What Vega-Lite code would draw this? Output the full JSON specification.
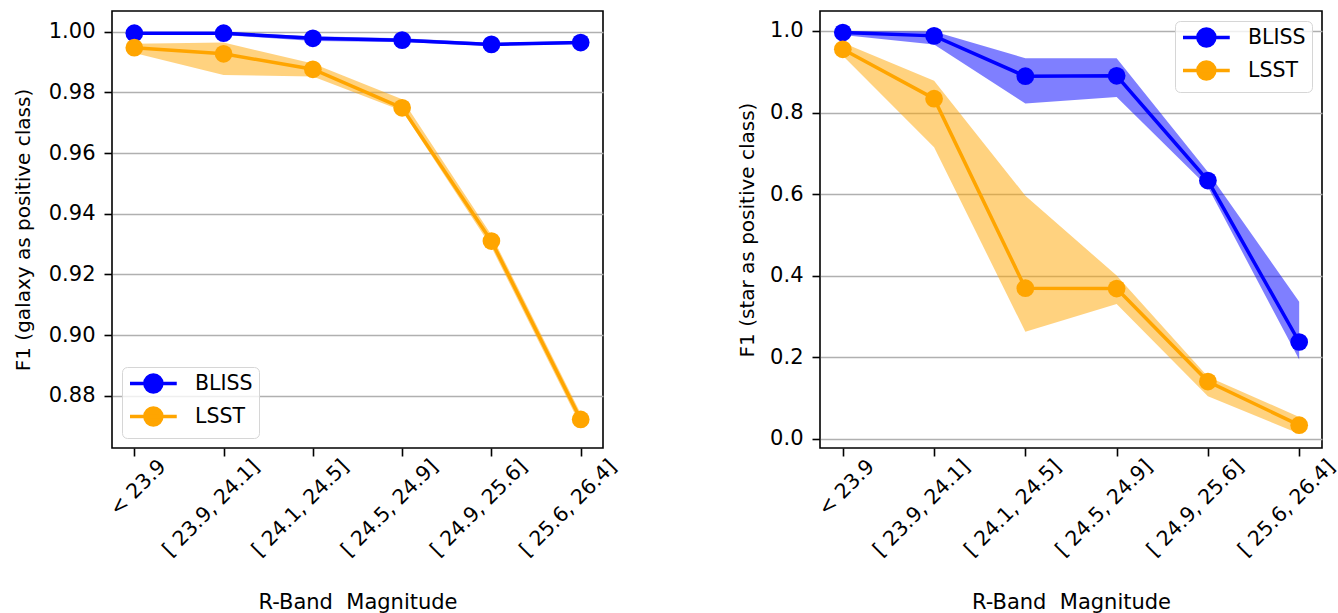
{
  "$schema": "https://vega.github.io/schema/vega-lite/v6.json",
  "background": "white",
  "padding": {"left": 12, "top": 10, "right": 4, "bottom": 2},
  "bounds": "flush",
  "spacing": 217,
  "config": {
    "font": "DejaVu Sans",
    "view": {"stroke": "black", "strokeWidth": 1.6},
    "axis": {
      "labelFont": "DejaVu Sans", "titleFont": "DejaVu Sans",
      "labelFontSize": 21, "titleFontSize": 20, "titleFontWeight": "normal",
      "labelColor": "black", "titleColor": "black",
      "tickColor": "black", "tickSize": 8, "tickWidth": 1.6,
      "domain": false, "gridColor": "#b0b0b0", "gridWidth": 1.5
    },
    "legend": {
      "labelFont": "DejaVu Sans", "labelFontSize": 20.5, "labelColor": "black",
      "symbolType": "M-1,0H4.5M0.75,0A1,1 0 1 1 2.75,0A1,1 0 1 1 0.75,0Z",
      "symbolSize": 289, "symbolStrokeWidth": 3.5, "symbolOpacity": 1,
      "labelOffset": 46, "padding": 6, "rowPadding": 2,
      "cornerRadius": 5, "strokeColor": "#d6d6d6", "fillColor": "rgba(255,255,255,0.8)",
      "offset": 10
    }
  },
  "datasets": {
    "galaxy": [
      {"bin": "< 23.9", "method": "BLISS", "f1": 0.9995, "lo": 0.9990, "hi": 0.9999},
      {"bin": "[ 23.9, 24.1]", "method": "BLISS", "f1": 0.9995, "lo": 0.9989, "hi": 0.9999},
      {"bin": "[ 24.1, 24.5]", "method": "BLISS", "f1": 0.9978, "lo": 0.9969, "hi": 0.9985},
      {"bin": "[ 24.5, 24.9]", "method": "BLISS", "f1": 0.9972, "lo": 0.9966, "hi": 0.9978},
      {"bin": "[ 24.9, 25.6]", "method": "BLISS", "f1": 0.9958, "lo": 0.9953, "hi": 0.9963},
      {"bin": "[ 25.6, 26.4]", "method": "BLISS", "f1": 0.9964, "lo": 0.9959, "hi": 0.9969},
      {"bin": "< 23.9", "method": "LSST", "f1": 0.9947, "lo": 0.9930, "hi": 0.9960},
      {"bin": "[ 23.9, 24.1]", "method": "LSST", "f1": 0.9927, "lo": 0.9857, "hi": 0.9964},
      {"bin": "[ 24.1, 24.5]", "method": "LSST", "f1": 0.9876, "lo": 0.9852, "hi": 0.9895},
      {"bin": "[ 24.5, 24.9]", "method": "LSST", "f1": 0.9749, "lo": 0.9739, "hi": 0.9777},
      {"bin": "[ 24.9, 25.6]", "method": "LSST", "f1": 0.9310, "lo": 0.9290, "hi": 0.9330},
      {"bin": "[ 25.6, 26.4]", "method": "LSST", "f1": 0.8722, "lo": 0.8702, "hi": 0.8742}
    ],
    "star": [
      {"bin": "< 23.9", "method": "BLISS", "f1": 0.996, "lo": 0.990, "hi": 1.000},
      {"bin": "[ 23.9, 24.1]", "method": "BLISS", "f1": 0.988, "lo": 0.967, "hi": 0.999},
      {"bin": "[ 24.1, 24.5]", "method": "BLISS", "f1": 0.889, "lo": 0.822, "hi": 0.933},
      {"bin": "[ 24.5, 24.9]", "method": "BLISS", "f1": 0.890, "lo": 0.838, "hi": 0.933},
      {"bin": "[ 24.9, 25.6]", "method": "BLISS", "f1": 0.633, "lo": 0.617, "hi": 0.654},
      {"bin": "[ 25.6, 26.4]", "method": "BLISS", "f1": 0.237, "lo": 0.194, "hi": 0.336},
      {"bin": "< 23.9", "method": "LSST", "f1": 0.955, "lo": 0.939, "hi": 0.971},
      {"bin": "[ 23.9, 24.1]", "method": "LSST", "f1": 0.834, "lo": 0.715, "hi": 0.878},
      {"bin": "[ 24.1, 24.5]", "method": "LSST", "f1": 0.369, "lo": 0.262, "hi": 0.596},
      {"bin": "[ 24.5, 24.9]", "method": "LSST", "f1": 0.368, "lo": 0.330, "hi": 0.400},
      {"bin": "[ 24.9, 25.6]", "method": "LSST", "f1": 0.140, "lo": 0.104, "hi": 0.152},
      {"bin": "[ 25.6, 26.4]", "method": "LSST", "f1": 0.033, "lo": 0.012, "hi": 0.053}
    ]
  },
  "hconcat": [
    {
      "width": 491, "height": 437,
      "data": {"name": "galaxy"},
      "encoding": {
        "x": {
          "field": "bin", "type": "ordinal",
          "sort": ["< 23.9", "[ 23.9, 24.1]", "[ 24.1, 24.5]", "[ 24.5, 24.9]", "[ 24.9, 25.6]", "[ 25.6, 26.4]"],
          "scale": {"type": "point", "padding": 0.25},
          "axis": {
            "title": "R-Band\u00a0\u00a0Magnitude", "grid": false, "titleFontSize": 21,
            "labelAngle": -45, "labelAlign": "right", "labelBaseline": "middle", "labelFontSize": 20.5,
            "labelPadding": 7, "titlePadding": 31,
            "labelOffset": {"condition": {"test": "length(datum.label) < 8", "value": 28}, "value": 32}
          }
        },
        "y": {"type": "quantitative", "title": "F1 (galaxy as positive class)",
          "scale": {"domain": [0.8628, 1.0068], "nice": false, "zero": false},
          "axis": {"values": [0.88, 0.90, 0.92, 0.94, 0.96, 0.98, 1.00], "format": ".2f", "labelPadding": 9, "titlePadding": 15}}
      },
      "layer": [
        {
          "transform": [{"filter": "datum.method === 'BLISS'"}],
          "mark": {"type": "area", "opacity": 0.5, "color": "#0000ff"},
          "encoding": {"y": {"field": "lo", "type": "quantitative", "stack": null}, "y2": {"field": "hi"}}
        },
        {
          "transform": [{"filter": "datum.method === 'LSST'"}],
          "mark": {"type": "area", "opacity": 0.5, "color": "#ffa500"},
          "encoding": {"y": {"field": "lo", "type": "quantitative", "stack": null}, "y2": {"field": "hi"}}
        },
        {
          "mark": {"type": "line", "strokeWidth": 3.5},
          "encoding": {
            "y": {"field": "f1", "type": "quantitative"},
            "color": {"field": "method", "type": "nominal",
              "scale": {"domain": ["BLISS", "LSST"], "range": ["#0000ff", "#ffa500"]},
              "legend": {"orient": "bottom-left", "title": null}}
          }
        },
        {
          "mark": {"type": "point", "filled": true, "size": 314, "opacity": 1},
          "encoding": {
            "y": {"field": "f1", "type": "quantitative"},
            "color": {"field": "method", "type": "nominal",
              "scale": {"domain": ["BLISS", "LSST"], "range": ["#0000ff", "#ffa500"]},
              "legend": {"orient": "bottom-left", "title": null}}
          }
        }
      ]
    },
    {
      "width": 502, "height": 437,
      "data": {"name": "star"},
      "encoding": {
        "x": {
          "field": "bin", "type": "ordinal",
          "sort": ["< 23.9", "[ 23.9, 24.1]", "[ 24.1, 24.5]", "[ 24.5, 24.9]", "[ 24.9, 25.6]", "[ 25.6, 26.4]"],
          "scale": {"type": "point", "padding": 0.25},
          "axis": {
            "title": "R-Band\u00a0\u00a0Magnitude", "grid": false, "titleFontSize": 21,
            "labelAngle": -45, "labelAlign": "right", "labelBaseline": "middle", "labelFontSize": 20.5,
            "labelPadding": 7, "titlePadding": 31,
            "labelOffset": {"condition": {"test": "length(datum.label) < 8", "value": 28}, "value": 32}
          }
        },
        "y": {"type": "quantitative", "title": "F1 (star as positive class)",
          "scale": {"domain": [-0.023, 1.049], "nice": false, "zero": false},
          "axis": {"values": [0, 0.2, 0.4, 0.6, 0.8, 1.0], "format": ".1f", "labelPadding": 9, "titlePadding": 12}}
      },
      "layer": [
        {
          "transform": [{"filter": "datum.method === 'BLISS'"}],
          "mark": {"type": "area", "opacity": 0.5, "color": "#0000ff"},
          "encoding": {"y": {"field": "lo", "type": "quantitative", "stack": null}, "y2": {"field": "hi"}}
        },
        {
          "transform": [{"filter": "datum.method === 'LSST'"}],
          "mark": {"type": "area", "opacity": 0.5, "color": "#ffa500"},
          "encoding": {"y": {"field": "lo", "type": "quantitative", "stack": null}, "y2": {"field": "hi"}}
        },
        {
          "mark": {"type": "line", "strokeWidth": 3.5},
          "encoding": {
            "y": {"field": "f1", "type": "quantitative"},
            "color": {"field": "method", "type": "nominal",
              "scale": {"domain": ["BLISS", "LSST"], "range": ["#0000ff", "#ffa500"]},
              "legend": {"orient": "top-right", "title": null}}
          }
        },
        {
          "mark": {"type": "point", "filled": true, "size": 314, "opacity": 1},
          "encoding": {
            "y": {"field": "f1", "type": "quantitative"},
            "color": {"field": "method", "type": "nominal",
              "scale": {"domain": ["BLISS", "LSST"], "range": ["#0000ff", "#ffa500"]},
              "legend": {"orient": "top-right", "title": null}}
          }
        }
      ]
    }
  ],
  "resolve": {"scale": {"color": "independent", "y": "independent"}, "legend": {"color": "independent"}}
}
